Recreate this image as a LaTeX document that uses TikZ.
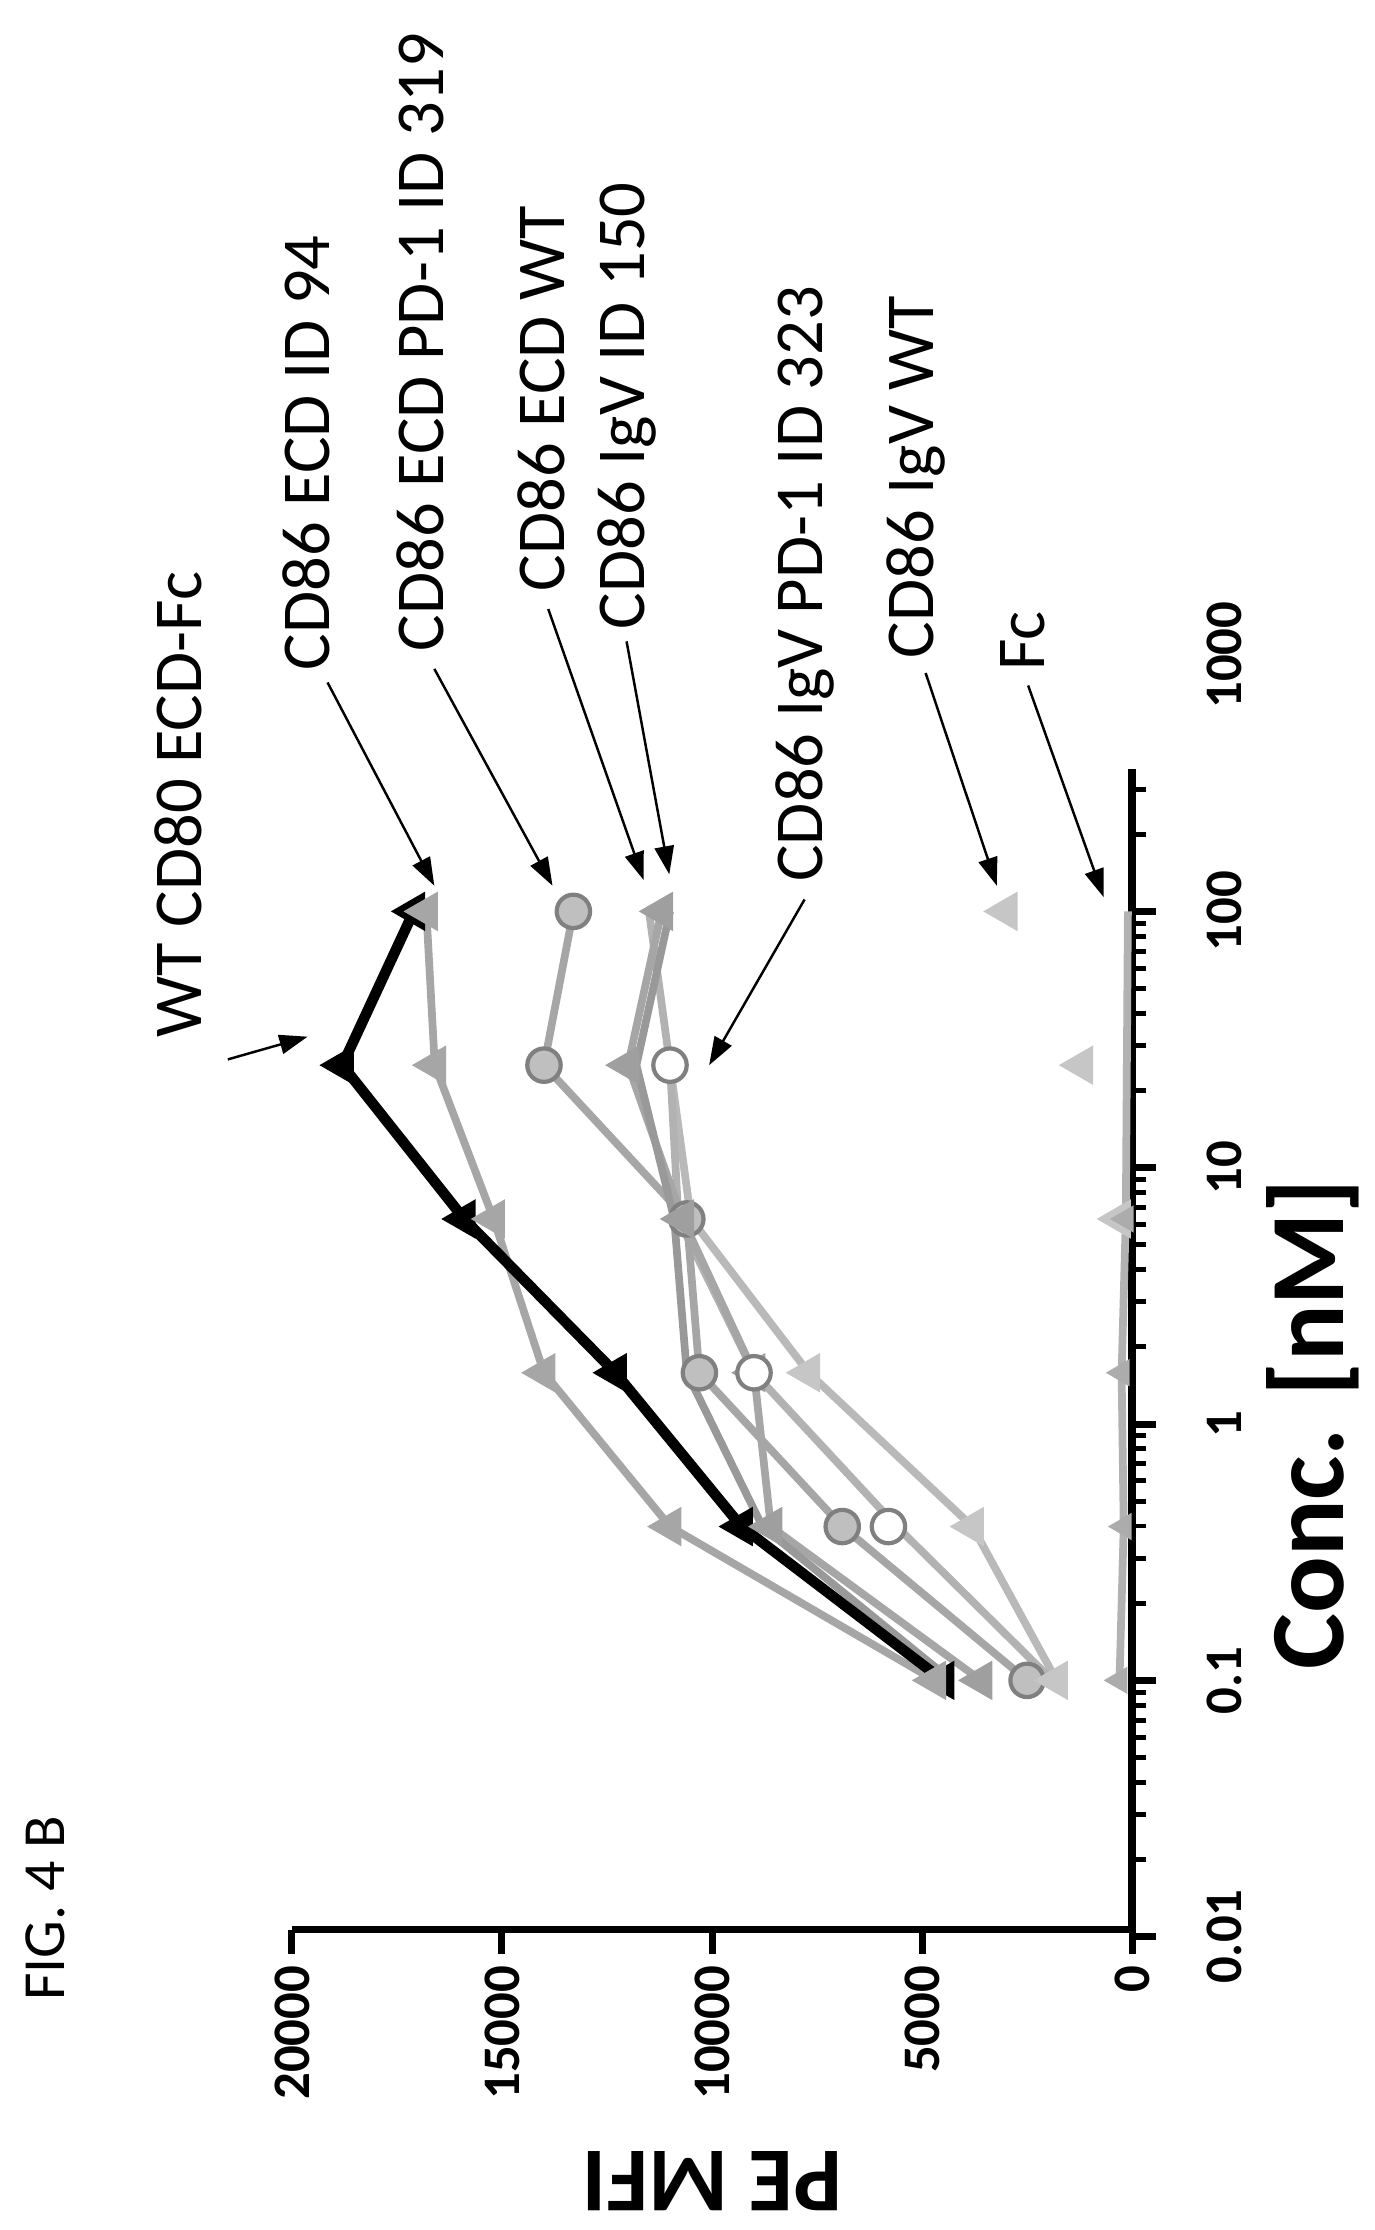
\documentclass[tikz,border=0pt]{standalone}
\usepackage{fontspec}
\setmainfont{Carlito}
\usetikzlibrary{shapes.geometric,arrows.meta}
\newcommand\dpt[2]{({795-29.5*(#2)},{1000-180*(#1)})}
\begin{document}
\begin{tikzpicture}[x=0.01424cm,y=-0.01424cm,
  lbl/.style={rotate=90,font=\fontsize{19.5}{19.5}\selectfont,inner sep=0},
  tick/.style={rotate=90,font=\bfseries\fontsize{15}{15}\selectfont,inner sep=0},
  ser/.style={line width=2.2pt,gray!70!white,line join=round},
  blk/.style={line width=3pt,black,line join=round},
  tri/.style={regular polygon,regular polygon sides=3,shape border rotate=90,fill=#1,inner sep=0,minimum size=13pt},
  circ/.style={circle,draw=gray,line width=1.2pt,fill=#1,inner sep=0,minimum size=9.5pt},
  arr/.style={-{Triangle[length=8pt,width=5.5pt]},line width=0.7pt}]
\useasboundingbox (0,0) rectangle (965,1566);
% axes
\draw[line width=2.2pt] (795,540) -- (795,1355) -- (205,1355);
\foreach \d in {-2,...,2}{
  \draw[line width=2pt] (795,{1000-180*\d}) -- (812,{1000-180*\d});}
\foreach \d in {-2,...,2}{\foreach \k in {2,...,9}{
  \pgfmathsetmacro\yy{1000-180*(\d+log10(\k))}
  \pgfmathparse{\yy>=540?1:0}
  \ifnum\pgfmathresult=1 \draw[line width=1.4pt] (795,\yy) -- (805,\yy);\fi}}
\foreach \v/\t in {0/0,5/5000,10/10000,15/15000,20/20000}{
  \draw[line width=2pt] ({795-29.5*\v},1355) -- ({795-29.5*\v},1372);
  \node[tick,anchor=east] (t\v) at ({795-29.5*\v},1380) {\t};}
\foreach \d/\t in {-2/0.01,-1/0.1,0/1,1/10,2/100,3/1000}{
  \node[tick] (c\d) at (860,{1000-180*\d}) {\t};}
\node[rotate=90,font=\bfseries\fontsize{30}{30}\selectfont] (xl) at (922,1000) {Conc. [nM]};
\node[rotate=180,font=\bfseries\fontsize{26}{26}\selectfont] (yl) at (500,1532) {PE MFI};
\node[rotate=90,font=\fontsize{17}{17}\selectfont] (fig) at (32,1340) {FIG. 4 B};
% series
\draw[ser,gray!55] \dpt{-1}{1.8} -- \dpt{-0.4}{3.8} -- \dpt{0.2}{7.7} -- \dpt{0.8}{10.5} -- \dpt{1.4}{11.0};
\draw[ser,gray!60] \dpt{-1}{1.9} -- \dpt{-0.4}{5.6} -- \dpt{0.2}{9.0} -- \dpt{0.8}{10.8} -- \dpt{1.4}{11.0} -- \dpt{2}{11.5};
\draw[ser] \dpt{-1}{3.6} -- \dpt{-0.4}{8.6} -- \dpt{0.2}{9.0} -- \dpt{0.8}{10.7} -- \dpt{1.4}{12.0} -- \dpt{2}{11.2};
\draw[ser] \dpt{-1}{2.5} -- \dpt{-0.4}{6.9} -- \dpt{0.2}{10.3} -- \dpt{0.8}{10.6} -- \dpt{1.4}{14.0} -- \dpt{2}{13.3};
\draw[ser] \dpt{-1}{4.7} -- \dpt{-0.4}{11.0} -- \dpt{0.2}{14.0} -- \dpt{0.8}{15.2} -- \dpt{1.4}{16.6} -- \dpt{2}{16.8};
\draw[ser,gray!80] \dpt{-1}{4.3} -- \dpt{-0.4}{8.8} -- \dpt{0.2}{10.6} -- \dpt{0.8}{10.9} -- \dpt{1.4}{11.8} -- \dpt{2}{11.0};
\draw[ser,gray!60] \dpt{-1}{0.3} -- \dpt{-0.4}{0.2} -- \dpt{0.2}{0.25} -- \dpt{0.8}{0.15} -- \dpt{2}{0.1};
\draw[blk] \dpt{-1}{4.5} -- \dpt{-0.4}{9.3} -- \dpt{0.2}{12.3} -- \dpt{0.8}{15.9} -- \dpt{1.4}{18.8} -- \dpt{2}{17.1};
% markers
\foreach \u/\v in {-1/4.5,-0.4/9.3,0.2/12.3,0.8/15.9,1.4/18.8,2/17.1}{\node[tri=black] at \dpt{\u}{\v} {};}
\foreach \u/\v in {-1/4.7,-0.4/11.0,0.2/14.0,0.8/15.2,1.4/16.6,2/16.8}{\node[tri=gray!70] at \dpt{\u}{\v} {};}
\foreach \u/\v in {-1/2.5,-0.4/6.9,0.2/10.3,0.8/10.6,1.4/14.0,2/13.3}{\node[circ=gray!50] at \dpt{\u}{\v} {};}
\foreach \u/\v in {-1/3.6,-0.4/8.6,0.2/9.0,0.8/10.7,1.4/12.0,2/11.2}{\node[tri=gray!75] at \dpt{\u}{\v} {};}
\foreach \u/\v in {-0.4/5.8,0.2/9.0,1.4/11.0}{\node[circ=white] at \dpt{\u}{\v} {};}
\foreach \u/\v in {-1/1.8,-0.4/3.8,0.2/7.7,0.8/0.3,1.4/1.2,2/3.0}{\node[tri=gray!45] at \dpt{\u}{\v} {};}
\foreach \u/\v in {-1/0.3,-0.4/0.2,0.2/0.25,0.8/0.15}{\node[tri=gray!65,minimum size=9pt] at \dpt{\u}{\v} {};}
% labels
\node[lbl] (l1) at (125,565) {WT CD80 ECD-Fc};
\node[lbl] (l2) at (215,318) {CD86 ECD ID 94};
\node[lbl] (l3) at (295,240) {CD86 ECD PD-1 ID 319};
\node[lbl] (l4) at (380,280) {CD86 ECD WT};
\node[lbl] (l5) at (440,285) {CD86 IgV ID 150};
\node[lbl] (l6) at (565,410) {CD86 IgV PD-1 ID 323};
\node[lbl] (l7) at (643,335) {CD86 IgV WT};
\node[lbl] (l8) at (718,450) {Fc};
\coordinate (h1) at (216,728); \coordinate (h2) at (305,622);
\coordinate (h3) at (388,622); \coordinate (h4) at (452,618);
\coordinate (h5) at (470,614); \coordinate (h6) at (498,748);
\coordinate (h7) at (700,622); \coordinate (h8) at (775,630);
\draw[arr] ([shift={(35,15)}]l1.west) -- (h1);
\draw[arr] ([shift={(15,8)}]l2.west) -- (h2);
\draw[arr] ([shift={(10,12)}]l3.west) -- (h3);
\draw[arr] ([shift={(5,12)}]l4.west) -- (h4);
\draw[arr] ([shift={(0,8)}]l5.west) -- (h5);
\draw[arr] ([shift={(0,12)}]l6.west) -- (h6);
\draw[arr] ([shift={(7,10)}]l7.west) -- (h7);
\draw[arr] ([shift={(4,10)}]l8.west) -- (h8);
\end{tikzpicture}
\end{document}
